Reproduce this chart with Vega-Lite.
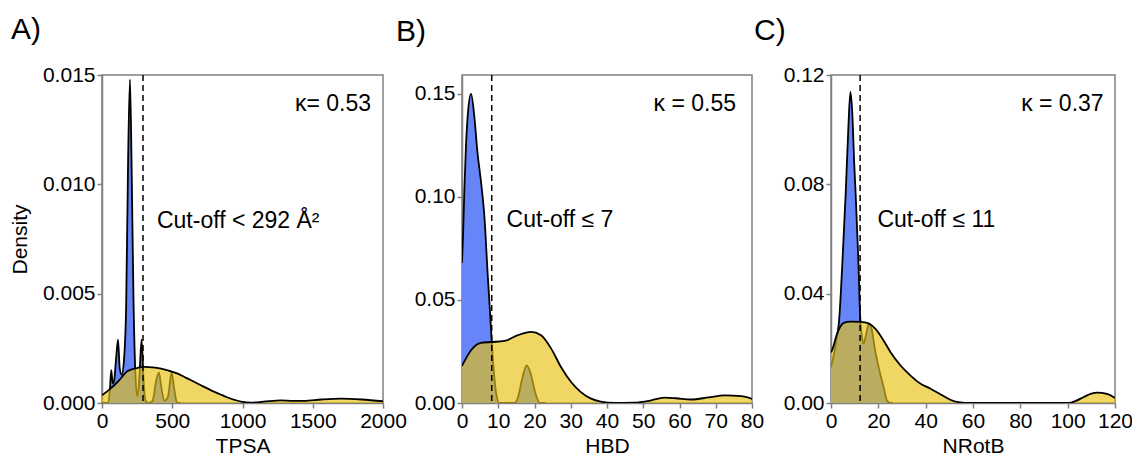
{
  "$schema": "https://vega.github.io/schema/vega-lite/v6.json",
  "background": "white",
  "padding": {"left": 8, "top": 14, "right": 5, "bottom": 0},
  "datasets": {
    "tpsa": [
      {"group": "in", "value": 0, "density": 0},
      {"group": "in", "value": 40, "density": 0},
      {"group": "in", "value": 55, "density": 0.0005},
      {"group": "in", "value": 66, "density": 0.0015},
      {"group": "in", "value": 76, "density": 0.0009},
      {"group": "in", "value": 86, "density": 0.0010},
      {"group": "in", "value": 100, "density": 0.0020},
      {"group": "in", "value": 114, "density": 0.0029},
      {"group": "in", "value": 126, "density": 0.0016},
      {"group": "in", "value": 140, "density": 0.0013},
      {"group": "in", "value": 158, "density": 0.0021},
      {"group": "in", "value": 172, "density": 0.0045},
      {"group": "in", "value": 186, "density": 0.0112},
      {"group": "in", "value": 199, "density": 0.0148},
      {"group": "in", "value": 211, "density": 0.0107},
      {"group": "in", "value": 224, "density": 0.0048},
      {"group": "in", "value": 238, "density": 0.0013},
      {"group": "in", "value": 252, "density": 0.0003},
      {"group": "in", "value": 266, "density": 0.0012},
      {"group": "in", "value": 282, "density": 0.0029},
      {"group": "in", "value": 296, "density": 0.0010},
      {"group": "in", "value": 310, "density": 0.0001},
      {"group": "in", "value": 330, "density": 0},
      {"group": "in", "value": 360, "density": 0.0001},
      {"group": "in", "value": 385, "density": 0.0010},
      {"group": "in", "value": 405, "density": 0.0014},
      {"group": "in", "value": 425, "density": 0.0006},
      {"group": "in", "value": 445, "density": 0.0001},
      {"group": "in", "value": 470, "density": 0.0003},
      {"group": "in", "value": 495, "density": 0.0014},
      {"group": "in", "value": 515, "density": 0.0006},
      {"group": "in", "value": 535, "density": 0},
      {"group": "in", "value": 560, "density": 0},
      {"group": "out", "value": 0, "density": 0.00035},
      {"group": "out", "value": 50, "density": 0.0006},
      {"group": "out", "value": 111, "density": 0.00096},
      {"group": "out", "value": 183, "density": 0.00146},
      {"group": "out", "value": 250, "density": 0.0016},
      {"group": "out", "value": 301, "density": 0.00165},
      {"group": "out", "value": 360, "density": 0.00163},
      {"group": "out", "value": 420, "density": 0.00157},
      {"group": "out", "value": 480, "density": 0.00147},
      {"group": "out", "value": 539, "density": 0.00134},
      {"group": "out", "value": 600, "density": 0.00115},
      {"group": "out", "value": 658, "density": 0.00096},
      {"group": "out", "value": 720, "density": 0.00076},
      {"group": "out", "value": 776, "density": 0.00058},
      {"group": "out", "value": 840, "density": 0.0004},
      {"group": "out", "value": 895, "density": 0.00025},
      {"group": "out", "value": 950, "density": 0.00013},
      {"group": "out", "value": 1000, "density": 0.00005},
      {"group": "out", "value": 1060, "density": 0.00002},
      {"group": "out", "value": 1150, "density": 0.00006},
      {"group": "out", "value": 1274, "density": 0.00012},
      {"group": "out", "value": 1360, "density": 0.0001},
      {"group": "out", "value": 1438, "density": 0.0001},
      {"group": "out", "value": 1560, "density": 0.00016},
      {"group": "out", "value": 1701, "density": 0.0002},
      {"group": "out", "value": 1850, "density": 0.00016},
      {"group": "out", "value": 2000, "density": 0.00008}
    ],
    "hbd": [
      {"group": "in", "value": 0, "density": 0.068},
      {"group": "in", "value": 0.3, "density": 0.082},
      {"group": "in", "value": 0.64, "density": 0.103},
      {"group": "in", "value": 1.1, "density": 0.125},
      {"group": "in", "value": 1.6, "density": 0.140},
      {"group": "in", "value": 2.5, "density": 0.150},
      {"group": "in", "value": 3.4, "density": 0.139},
      {"group": "in", "value": 4.3, "density": 0.121},
      {"group": "in", "value": 5.2, "density": 0.108},
      {"group": "in", "value": 6.2, "density": 0.090},
      {"group": "in", "value": 7.1, "density": 0.062},
      {"group": "in", "value": 7.7, "density": 0.045},
      {"group": "in", "value": 8.2, "density": 0.030},
      {"group": "in", "value": 8.8, "density": 0.015},
      {"group": "in", "value": 9.4, "density": 0.005},
      {"group": "in", "value": 10.3, "density": 0},
      {"group": "in", "value": 14.5, "density": 0},
      {"group": "in", "value": 15.5, "density": 0.003},
      {"group": "in", "value": 16.5, "density": 0.011},
      {"group": "in", "value": 17.8, "density": 0.0183},
      {"group": "in", "value": 19, "density": 0.014},
      {"group": "in", "value": 20.2, "density": 0.005},
      {"group": "in", "value": 21.5, "density": 0},
      {"group": "in", "value": 23, "density": 0},
      {"group": "out", "value": 0, "density": 0.018},
      {"group": "out", "value": 2.5, "density": 0.0256},
      {"group": "out", "value": 5.2, "density": 0.0292},
      {"group": "out", "value": 8.2, "density": 0.0296},
      {"group": "out", "value": 11.7, "density": 0.0301},
      {"group": "out", "value": 15.4, "density": 0.0329},
      {"group": "out", "value": 19, "density": 0.0345},
      {"group": "out", "value": 21.8, "density": 0.0329},
      {"group": "out", "value": 24.6, "density": 0.0264},
      {"group": "out", "value": 27.3, "density": 0.0175},
      {"group": "out", "value": 30.1, "density": 0.0102},
      {"group": "out", "value": 32.8, "density": 0.0053},
      {"group": "out", "value": 35.6, "density": 0.0021},
      {"group": "out", "value": 38.3, "density": 0.0007},
      {"group": "out", "value": 42, "density": 0.0001},
      {"group": "out", "value": 47.5, "density": 0.0002},
      {"group": "out", "value": 52, "density": 0.0012},
      {"group": "out", "value": 55.8, "density": 0.0026},
      {"group": "out", "value": 59, "density": 0.0023},
      {"group": "out", "value": 63.2, "density": 0.0017},
      {"group": "out", "value": 68, "density": 0.0027},
      {"group": "out", "value": 72.4, "density": 0.0037},
      {"group": "out", "value": 77, "density": 0.0033},
      {"group": "out", "value": 80, "density": 0.002}
    ],
    "nrotb": [
      {"group": "in", "value": 0, "density": 0.013},
      {"group": "in", "value": 1.5, "density": 0.019},
      {"group": "in", "value": 2.5, "density": 0.024},
      {"group": "in", "value": 3.4, "density": 0.030},
      {"group": "in", "value": 4.8, "density": 0.0512},
      {"group": "in", "value": 6.2, "density": 0.0766},
      {"group": "in", "value": 7.3, "density": 0.100},
      {"group": "in", "value": 8.2, "density": 0.1138},
      {"group": "in", "value": 9.0, "density": 0.106},
      {"group": "in", "value": 9.8, "density": 0.088},
      {"group": "in", "value": 10.4, "density": 0.0766},
      {"group": "in", "value": 11.6, "density": 0.0512},
      {"group": "in", "value": 12.3, "density": 0.032},
      {"group": "in", "value": 13.0, "density": 0.025},
      {"group": "in", "value": 13.8, "density": 0.0217},
      {"group": "in", "value": 14.8, "density": 0.025},
      {"group": "in", "value": 16.0, "density": 0.029},
      {"group": "in", "value": 17.2, "density": 0.027},
      {"group": "in", "value": 18.5, "density": 0.020},
      {"group": "in", "value": 20.1, "density": 0.0132},
      {"group": "in", "value": 22.2, "density": 0.0059},
      {"group": "in", "value": 23.7, "density": 0.0008},
      {"group": "in", "value": 25, "density": 0},
      {"group": "in", "value": 26, "density": 0},
      {"group": "out", "value": 0, "density": 0.0185},
      {"group": "out", "value": 0.46, "density": 0.0193},
      {"group": "out", "value": 2.6, "density": 0.0254},
      {"group": "out", "value": 5.4, "density": 0.0293},
      {"group": "out", "value": 8.2, "density": 0.0298},
      {"group": "out", "value": 12.4, "density": 0.0297},
      {"group": "out", "value": 15.9, "density": 0.0291},
      {"group": "out", "value": 18.7, "density": 0.0272},
      {"group": "out", "value": 22.2, "density": 0.0229},
      {"group": "out", "value": 25.1, "density": 0.0187},
      {"group": "out", "value": 29.3, "density": 0.0138},
      {"group": "out", "value": 33.5, "density": 0.0101},
      {"group": "out", "value": 37.7, "density": 0.0071},
      {"group": "out", "value": 41.9, "density": 0.0053},
      {"group": "out", "value": 46.2, "density": 0.0032},
      {"group": "out", "value": 50.4, "density": 0.0012},
      {"group": "out", "value": 54.6, "density": 0.0002},
      {"group": "out", "value": 58, "density": 0},
      {"group": "out", "value": 100.5, "density": 0},
      {"group": "out", "value": 103.5, "density": 0.0008},
      {"group": "out", "value": 106.8, "density": 0.0022},
      {"group": "out", "value": 110, "density": 0.0034},
      {"group": "out", "value": 112.4, "density": 0.0038},
      {"group": "out", "value": 116.6, "density": 0.0033},
      {"group": "out", "value": 120, "density": 0.0018}
    ],
    "notes": [
      {"panel": "TPSA", "cutoff": 292, "cutLabel": "Cut-off < 292 Å²", "kappa": "κ= 0.53"},
      {"panel": "HBD", "cutoff": 8.2, "cutLabel": "Cut-off ≤ 7", "kappa": "κ = 0.55"},
      {"panel": "NRotB", "cutoff": 12.3, "cutLabel": "Cut-off ≤ 11", "kappa": "κ = 0.37"}
    ]
  },
  "hconcat": [
    {
      "width": 281,
      "height": 328,
      "title": {"text": "A)", "dx": -91, "offset": 19},
      "layer": [
        {
          "data": {"name": "tpsa"},
          "transform": [{"filter": "datum.group === 'in'"}],
          "mark": {"type": "area", "color": "#6585F9", "interpolate": "monotone", "clip": true},
          "encoding": {
            "x": {"field": "value", "type": "quantitative", "scale": {"domain": [0, 2000], "nice": false}, "axis": {"title": "TPSA", "values": [0, 500, 1000, 1500, 2000], "format": "d", "labelOverlap": false}},
            "y": {"field": "density", "type": "quantitative", "scale": {"domain": [0, 0.015], "nice": false}, "axis": {"title": "Density", "values": [0, 0.005, 0.01, 0.015], "format": ".3f", "labelOverlap": false}}
          }
        },
        {
          "data": {"name": "tpsa"},
          "transform": [{"filter": "datum.group === 'in'"}],
          "mark": {"type": "line", "color": "black", "strokeWidth": 1.8, "interpolate": "monotone", "clip": true},
          "encoding": {"x": {"field": "value", "type": "quantitative"}, "y": {"field": "density", "type": "quantitative"}}
        },
        {
          "data": {"name": "tpsa"},
          "transform": [{"filter": "datum.group === 'out'"}],
          "mark": {"type": "area", "color": "#E8C10F", "fillOpacity": 0.65, "interpolate": "monotone", "clip": true},
          "encoding": {"x": {"field": "value", "type": "quantitative"}, "y": {"field": "density", "type": "quantitative"}}
        },
        {
          "data": {"name": "tpsa"},
          "transform": [{"filter": "datum.group === 'out'"}],
          "mark": {"type": "line", "color": "black", "strokeWidth": 1.8, "interpolate": "monotone", "clip": true},
          "encoding": {"x": {"field": "value", "type": "quantitative"}, "y": {"field": "density", "type": "quantitative"}}
        },
        {
          "data": {"name": "notes"},
          "transform": [{"filter": "datum.panel === 'TPSA'"}],
          "mark": {"type": "rule", "color": "black", "strokeWidth": 1.5, "strokeDash": [6, 4]},
          "encoding": {"x": {"field": "cutoff", "type": "quantitative"}}
        },
        {
          "data": {"name": "notes"},
          "transform": [{"filter": "datum.panel === 'TPSA'"}],
          "mark": {"type": "text", "align": "left", "baseline": "alphabetic", "fontSize": 23},
          "encoding": {"x": {"datum": 391}, "y": {"datum": 0.0080}, "text": {"field": "cutLabel"}}
        },
        {
          "data": {"name": "notes"},
          "transform": [{"filter": "datum.panel === 'TPSA'"}],
          "mark": {"type": "text", "align": "right", "baseline": "alphabetic", "fontSize": 23},
          "encoding": {"x": {"datum": 1915}, "y": {"datum": 0.01334}, "text": {"field": "kappa"}}
        }
      ]
    },
    {
      "width": 290,
      "height": 328,
      "title": {"text": "B)", "dx": -66, "offset": 27},
      "encoding": {
        "x": {"type": "quantitative", "scale": {"domain": [0, 80], "nice": false}, "axis": {"title": "HBD", "values": [0, 10, 20, 30, 40, 50, 60, 70, 80], "tickCount": 9, "format": "d", "labelOverlap": false, "labelSeparation": 0}}
      },
      "layer": [
        {
          "data": {"name": "hbd"},
          "transform": [{"filter": "datum.group === 'in'"}],
          "mark": {"type": "area", "color": "#6585F9", "interpolate": "monotone", "clip": true},
          "encoding": {
            "x": {"field": "value", "type": "quantitative", "scale": {"domain": [0, 80], "nice": false}, "axis": {"title": "HBD", "values": [0, 10, 20, 30, 40, 50, 60, 70, 80], "tickCount": 9, "format": "d", "labelOverlap": false, "labelSeparation": 0}},
            "y": {"field": "density", "type": "quantitative", "scale": {"domain": [0, 0.1592], "nice": false}, "axis": {"title": null, "values": [0, 0.05, 0.1, 0.15], "format": ".2f", "labelOverlap": false}}
          }
        },
        {
          "data": {"name": "hbd"},
          "transform": [{"filter": "datum.group === 'in'"}],
          "mark": {"type": "line", "color": "black", "strokeWidth": 1.8, "interpolate": "monotone", "clip": true},
          "encoding": {"x": {"field": "value", "type": "quantitative", "axis": {"title": "HBD", "values": [0, 10, 20, 30, 40, 50, 60, 70, 80], "tickCount": 9, "format": "d", "labelOverlap": false, "labelSeparation": 0}}, "y": {"field": "density", "type": "quantitative"}}
        },
        {
          "data": {"name": "hbd"},
          "transform": [{"filter": "datum.group === 'out'"}],
          "mark": {"type": "area", "color": "#E8C10F", "fillOpacity": 0.65, "interpolate": "monotone", "clip": true},
          "encoding": {"x": {"field": "value", "type": "quantitative", "axis": {"title": "HBD", "values": [0, 10, 20, 30, 40, 50, 60, 70, 80], "tickCount": 9, "format": "d", "labelOverlap": false, "labelSeparation": 0}}, "y": {"field": "density", "type": "quantitative"}}
        },
        {
          "data": {"name": "hbd"},
          "transform": [{"filter": "datum.group === 'out'"}],
          "mark": {"type": "line", "color": "black", "strokeWidth": 1.8, "interpolate": "monotone", "clip": true},
          "encoding": {"x": {"field": "value", "type": "quantitative", "axis": {"title": "HBD", "values": [0, 10, 20, 30, 40, 50, 60, 70, 80], "tickCount": 9, "format": "d", "labelOverlap": false, "labelSeparation": 0}}, "y": {"field": "density", "type": "quantitative"}}
        },
        {
          "data": {"name": "notes"},
          "transform": [{"filter": "datum.panel === 'HBD'"}],
          "mark": {"type": "rule", "color": "black", "strokeWidth": 1.5, "strokeDash": [6, 4]},
          "encoding": {"x": {"field": "cutoff", "type": "quantitative", "axis": {"title": "HBD", "values": [0, 10, 20, 30, 40, 50, 60, 70, 80], "tickCount": 9, "format": "d", "labelOverlap": false, "labelSeparation": 0}}}
        },
        {
          "data": {"name": "notes"},
          "transform": [{"filter": "datum.panel === 'HBD'"}],
          "mark": {"type": "text", "align": "left", "baseline": "alphabetic", "fontSize": 23},
          "encoding": {"x": {"datum": 12.3, "type": "quantitative", "axis": {"title": "HBD", "values": [0, 10, 20, 30, 40, 50, 60, 70, 80], "tickCount": 9, "format": "d", "labelOverlap": false, "labelSeparation": 0}}, "y": {"datum": 0.0855}, "text": {"field": "cutLabel"}}
        },
        {
          "data": {"name": "notes"},
          "transform": [{"filter": "datum.panel === 'HBD'"}],
          "mark": {"type": "text", "align": "right", "baseline": "alphabetic", "fontSize": 23},
          "encoding": {"x": {"datum": 75.6, "type": "quantitative", "axis": {"title": "HBD", "values": [0, 10, 20, 30, 40, 50, 60, 70, 80], "tickCount": 9, "format": "d", "labelOverlap": false, "labelSeparation": 0}}, "y": {"datum": 0.1417}, "text": {"field": "kappa"}}
        }
      ]
    },
    {
      "width": 284,
      "height": 328,
      "title": {"text": "C)", "dx": -77, "offset": 18},
      "layer": [
        {
          "data": {"name": "nrotb"},
          "transform": [{"filter": "datum.group === 'in'"}],
          "mark": {"type": "area", "color": "#6585F9", "interpolate": "monotone", "clip": true},
          "encoding": {
            "x": {"field": "value", "type": "quantitative", "scale": {"domain": [0, 120], "nice": false}, "axis": {"title": "NRotB", "values": [0, 20, 40, 60, 80, 100, 120], "format": "d", "labelOverlap": false}},
            "y": {"field": "density", "type": "quantitative", "scale": {"domain": [0, 0.12], "nice": false}, "axis": {"title": null, "values": [0, 0.04, 0.08, 0.12], "format": ".2f", "labelOverlap": false}}
          }
        },
        {
          "data": {"name": "nrotb"},
          "transform": [{"filter": "datum.group === 'in'"}],
          "mark": {"type": "line", "color": "black", "strokeWidth": 1.8, "interpolate": "monotone", "clip": true},
          "encoding": {"x": {"field": "value", "type": "quantitative"}, "y": {"field": "density", "type": "quantitative"}}
        },
        {
          "data": {"name": "nrotb"},
          "transform": [{"filter": "datum.group === 'out'"}],
          "mark": {"type": "area", "color": "#E8C10F", "fillOpacity": 0.65, "interpolate": "monotone", "clip": true},
          "encoding": {"x": {"field": "value", "type": "quantitative"}, "y": {"field": "density", "type": "quantitative"}}
        },
        {
          "data": {"name": "nrotb"},
          "transform": [{"filter": "datum.group === 'out'"}],
          "mark": {"type": "line", "color": "black", "strokeWidth": 1.8, "interpolate": "monotone", "clip": true},
          "encoding": {"x": {"field": "value", "type": "quantitative"}, "y": {"field": "density", "type": "quantitative"}}
        },
        {
          "data": {"name": "notes"},
          "transform": [{"filter": "datum.panel === 'NRotB'"}],
          "mark": {"type": "rule", "color": "black", "strokeWidth": 1.5, "strokeDash": [6, 4]},
          "encoding": {"x": {"field": "cutoff", "type": "quantitative"}}
        },
        {
          "data": {"name": "notes"},
          "transform": [{"filter": "datum.panel === 'NRotB'"}],
          "mark": {"type": "text", "align": "left", "baseline": "alphabetic", "fontSize": 23},
          "encoding": {"x": {"datum": 19.6}, "y": {"datum": 0.0644}, "text": {"field": "cutLabel"}}
        },
        {
          "data": {"name": "notes"},
          "transform": [{"filter": "datum.panel === 'NRotB'"}],
          "mark": {"type": "text", "align": "right", "baseline": "alphabetic", "fontSize": 23},
          "encoding": {"x": {"datum": 115.2}, "y": {"datum": 0.1067}, "text": {"field": "kappa"}}
        }
      ]
    }
  ],
  "spacing": 79,
  "bounds": "flush",
  "config": {
    "font": "Liberation Sans",
    "view": {"stroke": "#808080", "strokeWidth": 1.5},
    "text": {"font": "Liberation Sans", "color": "black"},
    "title": {"anchor": "start", "frame": "group", "baseline": "alphabetic", "fontSize": 30, "fontWeight": "normal", "font": "Liberation Sans", "color": "black"},
    "axis": {
      "grid": false,
      "labelFont": "Liberation Sans",
      "labelFontSize": 21,
      "labelColor": "black",
      "labelOverlap": false,
      "titleFont": "Liberation Sans",
      "titleFontSize": 21,
      "titleFontWeight": "normal",
      "titleColor": "black",
      "domainColor": "#808080",
      "domainWidth": 1.5,
      "tickColor": "#808080",
      "tickWidth": 1.5,
      "tickSize": 5,
      "labelPadding": 2
    },
    "axisX": {"titlePadding": 4, "labelFlush": false},
    "axisY": {"titlePadding": 12}
  }
}
